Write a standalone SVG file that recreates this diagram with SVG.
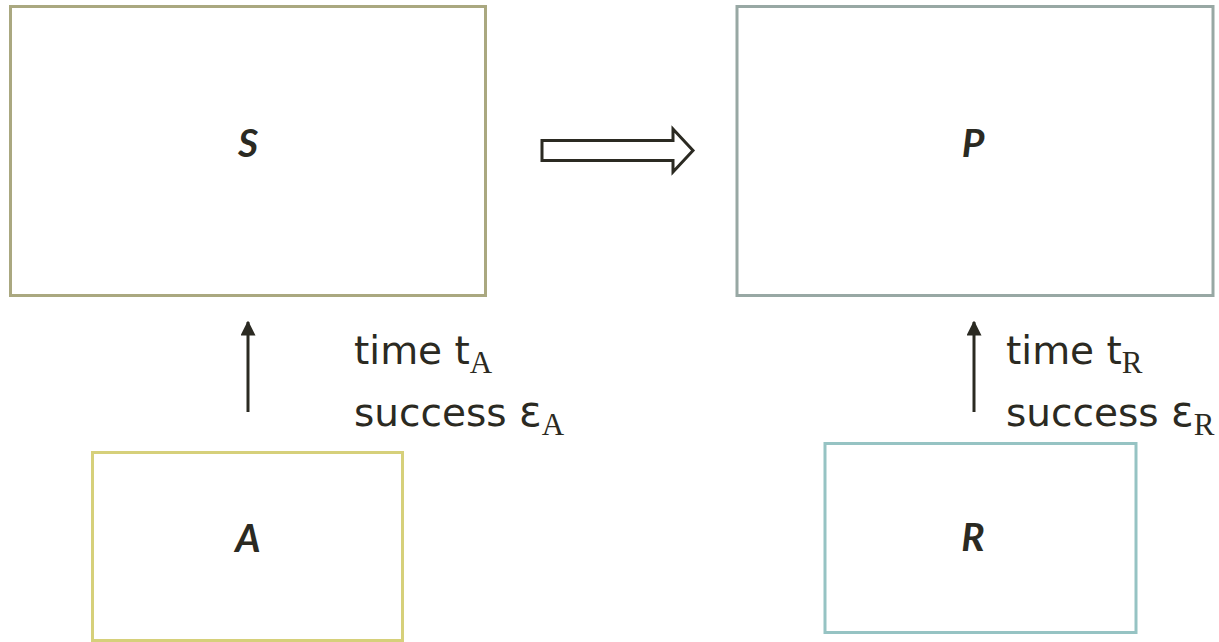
<svg xmlns="http://www.w3.org/2000/svg" width="1219" height="642" viewBox="0 0 1219 642">
<defs>
<style>
.box{fill:#fff;stroke-width:3}
.lbl{font-family:Lato,"Open Sans",sans-serif;font-weight:bold;font-style:italic;font-size:39px;fill:#2b2a22;text-anchor:middle}
.t{font-family:"DejaVu Sans",sans-serif;font-size:39px;fill:#2b2a22}
.eps{font-size:42px}
.sub{font-family:"Liberation Serif",serif;font-size:31px}
.conn{stroke:#2b2a22;stroke-width:3;fill:none}
</style>
<marker id="ah" viewBox="0 0 10 10" refX="9" refY="5" markerWidth="5" markerHeight="5" orient="auto" markerUnits="strokeWidth">
<path d="M0,0 L10,5 L0,10 z" fill="#2b2a22"/>
</marker>
</defs>
<rect width="1219" height="642" fill="#fff"/>
<g id="S"><rect class="box" x="10.5" y="6.5" width="475" height="289" stroke="#aaa880"/><text class="lbl" x="248" y="157">S</text></g>
<g id="P"><rect class="box" x="737" y="6.5" width="476" height="289" stroke="#98a8a4"/><text class="lbl" x="973" y="157">P</text></g>
<g id="A"><rect class="box" x="92.5" y="452.5" width="310" height="188" stroke="#d6d07a"/><text class="lbl" x="248" y="552">A</text></g>
<g id="R"><rect class="box" x="825" y="443.5" width="311" height="189" stroke="#96c3c3"/><text class="lbl" x="973" y="551">R</text></g>
<g id="connectors">
<line class="conn" x1="248" y1="412" x2="248" y2="322" marker-end="url(#ah)"/>
<line class="conn" x1="974" y1="412" x2="974" y2="322" marker-end="url(#ah)"/>
<path d="M542,140.5 H673 V129 L693,150.5 L673,172 V160.5 H542 Z" fill="#fff" stroke="#2b2a22" stroke-width="3" stroke-linejoin="miter"/>
</g>
<g id="labels">
<text class="t" x="354" y="364">time t<tspan class="sub" dy="9">A</tspan></text>
<text class="t" x="354" y="426">success <tspan class="eps">ε</tspan><tspan class="sub" dy="9">A</tspan></text>
<text class="t" x="1006" y="364">time t<tspan class="sub" dy="9">R</tspan></text>
<text class="t" x="1006" y="426">success <tspan class="eps">ε</tspan><tspan class="sub" dy="9">R</tspan></text>
</g>
</svg>
